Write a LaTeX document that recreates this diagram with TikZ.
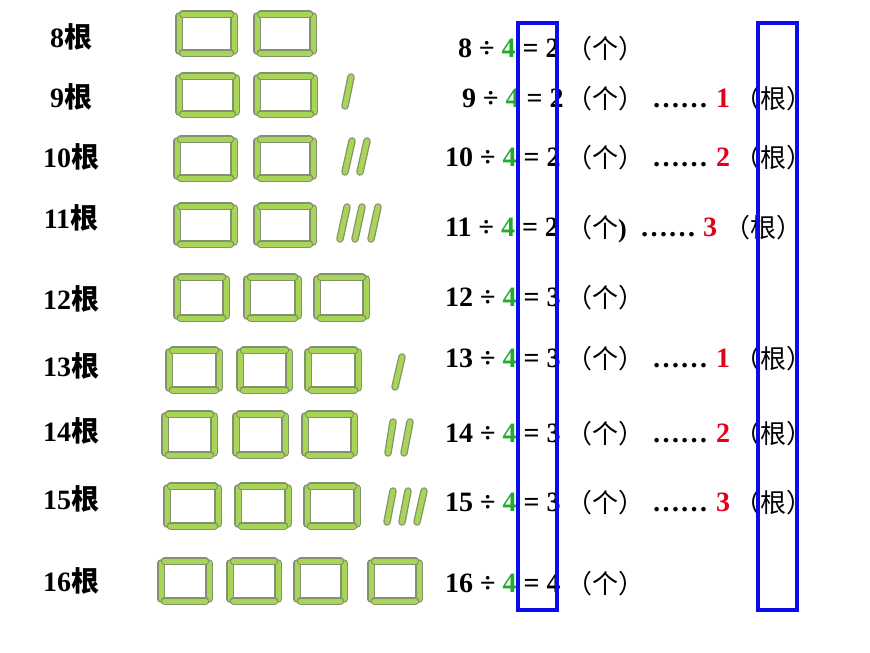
\documentclass[tikz,border=0pt]{standalone}
\usepackage{fontspec}
\setmainfont{Liberation Serif}
\newfontfamily\cjk{Noto Sans CJK SC}
\usetikzlibrary{positioning}
\definecolor{stickgreen}{RGB}{168,212,88}
\definecolor{stickedge}{RGB}{130,145,110}
\definecolor{divgreen}{RGB}{34,172,44}
\definecolor{remred}{RGB}{226,0,26}
\definecolor{frameblue}{RGB}{12,12,232}
\tikzset{
    stickout/.style={line width=7.5pt, color=stickedge, line cap=round},
    stickin/.style={line width=5pt, color=stickgreen, line cap=round},
    lbl/.style={font=\fontsize{28}{30}\selectfont\bfseries, inner sep=0pt, anchor=base},
    eqn/.style={font=\fontsize{28}{30}\selectfont\bfseries, inner sep=0pt, anchor=base west},
    cjkunit/.style={font=\fontsize{26}{28}\selectfont\cjk, inner sep=0pt, anchor=base west},
    remdots/.style={font=\fontsize{28}{30}\selectfont\bfseries, inner sep=0pt, anchor=base},
    remnum/.style={font=\fontsize{28}{30}\selectfont\bfseries, text=remred, inner sep=0pt, anchor=base},
    bluebox/.style={draw=frameblue, line width=4pt},
}
% one match stick, outline then filling
\newcommand\stick[2]{\draw[stickout] #1 -- #2; \draw[stickin] #1 -- #2;}
% a square of four sticks
\newcommand\matchsq[4]{%
    \stick{(#1+4,#2+6)}{(#1+4,#4-6)}
    \stick{(#3-4,#2+6)}{(#3-4,#4-6)}
    \stick{(#1+7.5,#2+4)}{(#3-7.5,#2+4)}
    \stick{(#1+7.5,#4-4)}{(#3-7.5,#4-4)}
}

\begin{document}
\begin{tikzpicture}[x=1pt,y=-1pt]
	\fill[white] (0,0) rectangle (870,653);
	% squares
	\foreach \a/\b/\c/\d in {175/10/238/57, 253/10/317/57,
		175/72/240/118, 253/72/318/118,
		173/135/238/182, 253/135/317/182,
		173/202/238/248, 253/202/317/248,
		173/273/230/322, 243/273/302/322, 313/273/370/322,
		165/346/223/394, 236/346/293/394, 304/346/362/394,
		161/410/218/459, 232/410/289/459, 301/410/358/459,
		163/482/222/530, 234/482/292/530, 303/482/361/530,
		157/557/213/605, 226/557/282/605, 293/557/348/605, 367/557/423/605}
		{\matchsq{\a}{\b}{\c}{\d}}
	% loose sticks
	\foreach \a/\b/\c/\d in {351/77/345/106,
		352/141/345/172, 367/141/360/172,
		347/207/340/239, 362/207/355/239, 378/207/371/239,
		402/357/395/387,
		393/422/388/453, 410/422/404/453,
		393/491/387/522, 408/491/402/522, 424/491/417/522}
		{\stick{(\a,\b)}{(\c,\d)}}
	% labels and divisions
	\foreach \n/\ly/\ey/\ex/\q in {8/38/48/458/2, 9/98/98/462/2, 10/158/157/445/2,
		11/219/227/445/2, 12/300/297/445/3, 13/367/358/445/3, 14/432/433/445/3,
		15/500/502/445/3, 16/582/583/445/4}
	{
		\node[lbl] (l\n) at (71,\ly+9.5) {\n{\cjk 根}};
		\node[eqn] (e\n) at (\ex,\ey+9.5) {\n\ ÷ {\color{divgreen}4} = \q};
		\ifnum\n=11
			\node[cjkunit] (g\n) at (566,\ey+10) {（个{\rmfamily\bfseries )}};
		\else
			\node[cjkunit] (g\n) at (566,\ey+10) {（个）};
		\fi
	}
	% remainders
	\foreach \n/\ey/\r in {9/98/1, 10/157/2, 13/358/1, 14/433/2, 15/502/3}
	{
		\node[remdots] (d\n) at (680,\ey+9.5) {……};
		\node[remnum] (r\n) at (723,\ey+9.5) {\r};
		\node[cjkunit] (h\n) at (734,\ey+10) {（根）};
	}
	\node[remdots] (d11) at (668,236.5) {……};
	\node[remnum] (r11) at (710,236.5) {3};
	\node[cjkunit] (h11) at (724,237) {（根）};
	% blue frames
	\draw[bluebox] (518,23) rectangle (557,610);
	\draw[bluebox] (758,23) rectangle (797,610);
\end{tikzpicture}
\end{document}
